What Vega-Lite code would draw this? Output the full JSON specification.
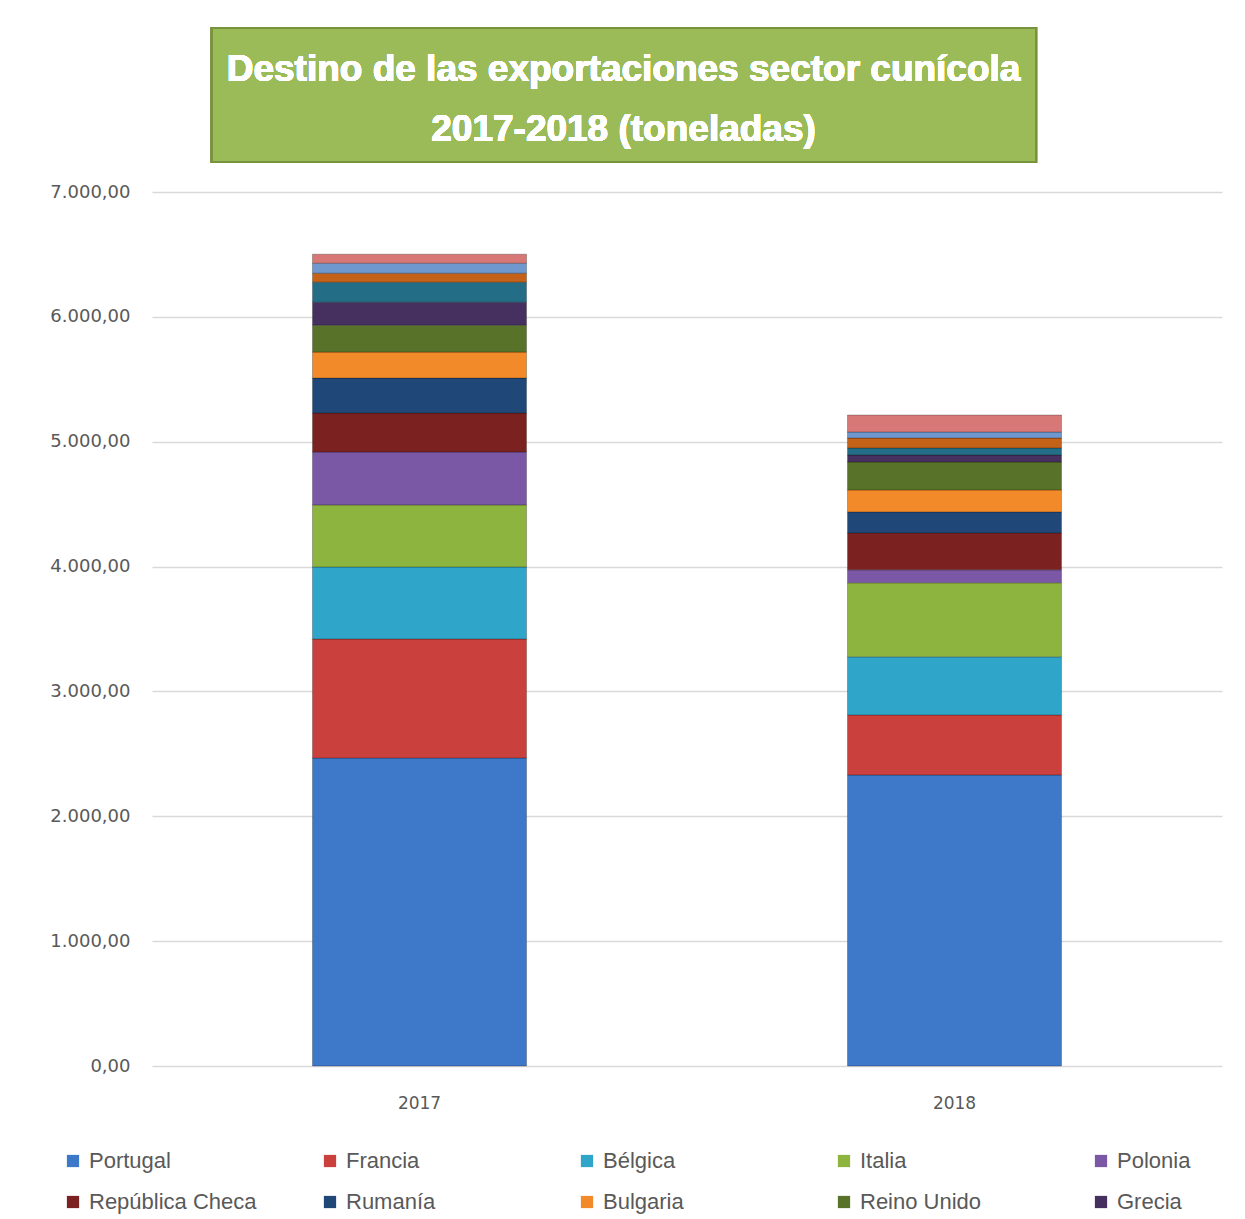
{
  "$schema": "https://vega.github.io/schema/vega-lite/v6.json",
  "autosize": "none",
  "width": 1070,
  "height": 1038,
  "padding": {"left": 152, "top": 28, "right": 23, "bottom": 153},
  "background": "#ffffff",
  "config": {
    "view": {"stroke": null},
    "locale": {"number": {"decimal": ",", "thousands": ".", "grouping": [3], "currency": ["", " €"]}},
    "font": "DejaVu Sans"
  },
  "data": {
    "values": [
      {"año": "2017", "destino": "Portugal", "toneladas": 2467},
      {"año": "2017", "destino": "Francia", "toneladas": 953},
      {"año": "2017", "destino": "Bélgica", "toneladas": 577},
      {"año": "2017", "destino": "Italia", "toneladas": 497},
      {"año": "2017", "destino": "Polonia", "toneladas": 424},
      {"año": "2017", "destino": "República Checa", "toneladas": 312},
      {"año": "2017", "destino": "Rumanía", "toneladas": 280},
      {"año": "2017", "destino": "Bulgaria", "toneladas": 208},
      {"año": "2017", "destino": "Reino Unido", "toneladas": 216},
      {"año": "2017", "destino": "Grecia", "toneladas": 184},
      {"año": "2017", "destino": "Otro destino 1", "toneladas": 160},
      {"año": "2017", "destino": "Otro destino 2", "toneladas": 72},
      {"año": "2017", "destino": "Otro destino 3", "toneladas": 80},
      {"año": "2017", "destino": "Otro destino 4", "toneladas": 72},
      {"año": "2018", "destino": "Portugal", "toneladas": 2331},
      {"año": "2018", "destino": "Francia", "toneladas": 481},
      {"año": "2018", "destino": "Bélgica", "toneladas": 465},
      {"año": "2018", "destino": "Italia", "toneladas": 593},
      {"año": "2018", "destino": "Polonia", "toneladas": 104},
      {"año": "2018", "destino": "República Checa", "toneladas": 296},
      {"año": "2018", "destino": "Rumanía", "toneladas": 168},
      {"año": "2018", "destino": "Bulgaria", "toneladas": 176},
      {"año": "2018", "destino": "Reino Unido", "toneladas": 224},
      {"año": "2018", "destino": "Grecia", "toneladas": 56},
      {"año": "2018", "destino": "Otro destino 1", "toneladas": 56},
      {"año": "2018", "destino": "Otro destino 2", "toneladas": 80},
      {"año": "2018", "destino": "Otro destino 3", "toneladas": 48},
      {"año": "2018", "destino": "Otro destino 4", "toneladas": 136}
    ]
  },
  "layer": [
    {
      "transform": [
        {"calculate": "indexof(['Portugal','Francia','Bélgica','Italia','Polonia','República Checa','Rumanía','Bulgaria','Reino Unido','Grecia','Otro destino 1','Otro destino 2','Otro destino 3','Otro destino 4'], datum.destino)", "as": "orden"}
      ],
      "mark": {"type": "bar", "stroke": "#000000", "strokeOpacity": 0.25, "strokeWidth": 1},
      "encoding": {
        "x": {
          "field": "año", "type": "nominal",
          "scale": {"paddingInner": 0.6, "paddingOuter": 0.3},
          "axis": {"title": null, "labelAngle": 0, "ticks": false, "domain": false, "labelPadding": 29, "labelFontSize": 17, "labelColor": "#595959", "labelFont": "DejaVu Sans"}
        },
        "y": {
          "field": "toneladas", "type": "quantitative", "stack": "zero",
          "scale": {"domain": [0, 8314], "nice": false, "zero": true},
          "axis": {"title": null, "values": [0, 1000, 2000, 3000, 4000, 5000, 6000, 7000], "format": ",.2f", "ticks": false, "domain": false, "labelPadding": 22, "labelFontSize": 18, "labelColor": "#595959", "labelFont": "DejaVu Sans", "grid": true, "gridColor": "#D9D9D9", "gridWidth": 1.5}
        },
        "order": {"field": "orden", "type": "quantitative", "sort": "ascending"},
        "color": {
          "field": "destino", "type": "nominal",
          "scale": {
            "domain": ["Portugal", "Francia", "Bélgica", "Italia", "Polonia", "República Checa", "Rumanía", "Bulgaria", "Reino Unido", "Grecia", "Otro destino 1", "Otro destino 2", "Otro destino 3", "Otro destino 4"],
            "range": ["#3E79C9", "#C9403D", "#2FA6C9", "#8DB43E", "#7A58A6", "#7B2220", "#1F4878", "#F28A2A", "#58722A", "#46305F", "#236E86", "#C4621A", "#6F98CF", "#D77877"]
          },
          "legend": {
            "title": null,
            "values": ["Portugal", "Francia", "Bélgica", "Italia", "Polonia", "República Checa", "Rumanía", "Bulgaria", "Reino Unido", "Grecia"],
            "orient": "none",
            "legendX": -90,
            "legendY": 1122,
            "direction": "horizontal",
            "columns": 5,
            "gridAlign": "all",
            "columnPadding": 62,
            "rowPadding": 19,
            "symbolType": "square",
            "symbolSize": 150,
            "symbolStrokeWidth": 0,
            "labelFont": "Liberation Sans",
            "labelFontSize": 22,
            "labelColor": "#595959",
            "labelOffset": 5,
            "labelLimit": 300
          }
        }
      }
    },
    {
      "mark": {"type": "rect", "fill": "#9BBB59", "stroke": "#77933C", "strokeWidth": 2},
      "encoding": {
        "x": {"datum": 0.056, "type": "quantitative", "scale": {"domain": [0, 1], "nice": false, "zero": false}, "axis": null},
        "x2": {"datum": 0.8262},
        "y": {"datum": 8314, "type": "quantitative"},
        "y2": {"datum": 7240}
      }
    },
    {
      "mark": {"type": "text", "text": ["Destino de las exportaciones sector cunícola", "2017-2018 (toneladas)"], "font": "Liberation Sans", "fontWeight": "bold", "fontSize": 37, "lineHeight": 60, "color": "#ffffff", "align": "center", "baseline": "middle"},
      "encoding": {
        "x": {"datum": 0.4407, "type": "quantitative", "scale": {"domain": [0, 1], "nice": false, "zero": false}, "axis": null},
        "y": {"datum": 7977, "type": "quantitative"}
      }
    }
  ],
  "resolve": {"scale": {"x": "independent"}, "axis": {"x": "independent"}}
}
